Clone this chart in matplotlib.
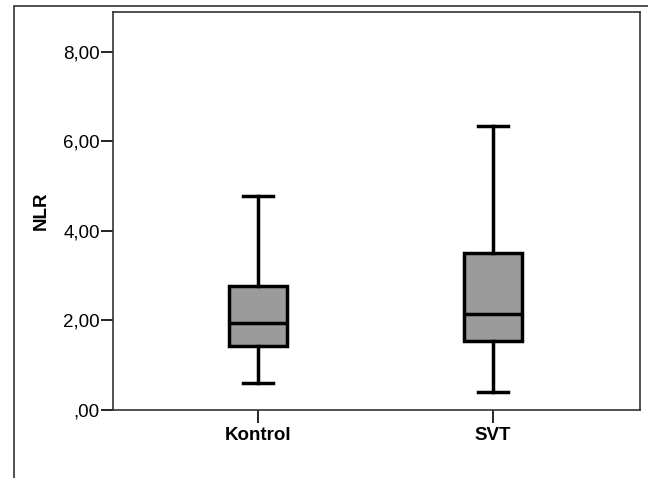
import matplotlib
matplotlib.use("Agg")
import matplotlib.pyplot as plt
from matplotlib.patches import Rectangle
from matplotlib.ticker import FuncFormatter

plt.rcParams['font.family'] = ['Liberation Sans', 'DejaVu Sans']

groups = ["Kontrol", "SVT"]
whisker_low = [0.60, 0.40]
q1 = [1.43, 1.54]
median = [1.94, 2.15]
q3 = [2.77, 3.51]
whisker_high = [4.78, 6.35]
y_ticks = [0, 2, 4, 6, 8]

stats = []
for i, g in enumerate(groups):
    stats.append({"label": g, "whislo": whisker_low[i], "q1": q1[i],
                  "med": median[i], "q3": q3[i], "whishi": whisker_high[i],
                  "fliers": []})

fig = plt.figure(figsize=(6.48, 4.78), dpi=100)
ax = fig.add_axes([113 / 648, 1 - 410 / 478, 527 / 648, 398 / 478])

lw = 2.5
ax.bxp(stats, positions=[1, 2], widths=0.25, patch_artist=True,
       showfliers=False,
       boxprops=dict(facecolor="#9b9b9b", edgecolor="black", linewidth=lw),
       medianprops=dict(color="black", linewidth=lw),
       whiskerprops=dict(color="black", linewidth=lw),
       capprops=dict(color="black", linewidth=lw),
       capwidths=0.13)

ax.set_xlim(0.383, 2.626)
ax.set_ylim(0, 8.89)
ax.set_yticks(y_ticks)


def fmt(v, pos):
    s = "%.2f" % v
    s = s.replace(".", ",")
    if s.startswith("0"):
        s = s[1:]
    return s


ax.yaxis.set_major_formatter(FuncFormatter(fmt))
ax.set_xticks([1, 2])
ax.set_xticklabels(groups, fontweight="bold", fontsize=13.5)
ax.tick_params(axis="y", labelsize=13.5, length=9, width=1.2, pad=0.5)
ax.tick_params(axis="x", length=9, width=1.2, pad=3)
for s in ax.spines.values():
    s.set_linewidth(1.2)
    s.set_color("#333333")

ax.set_ylabel("NLR", fontweight="bold", fontsize=13.5)
ax.yaxis.set_label_coords(-0.12, 0.5)

# outer frame of the chart
fig.patches.append(Rectangle((14 / 648, -0.2), 1.2, 1.2 - 6 / 478,
                             transform=fig.transFigure, fill=False,
                             edgecolor="#333333", linewidth=1.2))

fig.savefig("out.png", dpi=100)
